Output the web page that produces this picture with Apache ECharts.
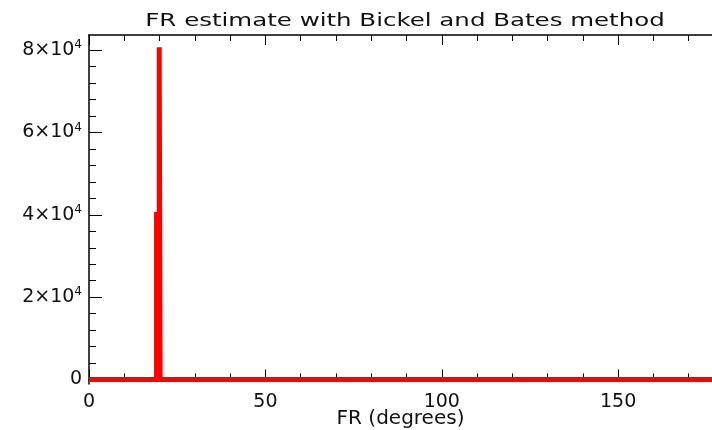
<!DOCTYPE html>
<html>
<head>
<meta charset="utf-8">
<script src="https://cdn.jsdelivr.net/npm/echarts@6/dist/echarts.min.js"></script>
<style>html,body{margin:0;padding:0;background:#fff}#c{width:712px;height:430px}</style>
</head>
<body>
<div id="c"></div>
<script>
// Data (FR histogram, drawn as a step line; x = bin edges in degrees)
var frDegrees = [0, 19.15, 19.9, 20.15, 180];
var counts = [0, 40100, 80700, 0, 0];
// Tick values
var xMajorTicks = [0, 50, 100, 150];
var xMinorTicks = [10, 20, 30, 40, 60, 70, 80, 90, 110, 120, 130, 140, 160, 170];
var yMajorTicks = [0, 20000, 40000, 60000, 80000];
var yMinorTicks = [4000, 8000, 12000, 16000, 24000, 28000, 32000, 36000, 44000, 48000, 52000, 56000, 64000, 68000, 72000, 76000];
var titleText = 'FR estimate with Bickel and Bates method';
var xName = 'FR (degrees)';

var FONT = 'DejaVu Sans';
var chart = echarts.init(document.getElementById('c'), null, {renderer: 'canvas'});

function yLabel(v) {
  if (v === 0) return '0';
  var m = Math.round(v / 10000);
  return m + '×10{s|4}';
}

var X_MAX = 176.6; // visible right edge of the (cropped) plot
var xBase = {
  type: 'value', min: 0, max: X_MAX, gridIndex: 0,
  splitLine: {show: false}
};
var tickLineStyle = {color: '#000', width: 1};

var option = {
  animation: false,
  backgroundColor: '#fff',
  grid: {left: 89, right: 0, top: 35, bottom: 46, containLabel: false, outerBoundsMode: 'none'},
  graphic: [{
    type: 'text', x: 405, y: 12, scaleX: 1.36, scaleY: 1,
    style: {text: titleText, fill: '#111', font: '18px "DejaVu Sans"', textAlign: 'center', textVerticalAlign: 'top'}
  }],
  xAxis: [
    Object.assign({}, xBase, {
      position: 'bottom',
      axisLine: {show: true, lineStyle: {color: '#000', width: 1.5}},
      axisTick: {show: true, inside: true, length: 10, lineStyle: tickLineStyle, customValues: xMajorTicks},
      axisLabel: {show: true, customValues: xMajorTicks, color: '#111', fontFamily: FONT, fontSize: 19, margin: 9},
      name: xName, nameLocation: 'middle', nameGap: 25, nameMoveOverlap: false,
      nameTextStyle: {color: '#111', fontFamily: FONT, fontSize: 20}
    }),
    Object.assign({}, xBase, {
      position: 'bottom',
      axisLine: {show: false},
      axisTick: {show: true, inside: true, length: 6, lineStyle: tickLineStyle, customValues: xMinorTicks},
      axisLabel: {show: false}
    }),
    Object.assign({}, xBase, {
      position: 'top',
      axisLine: {show: true, lineStyle: {color: '#000', width: 1.5}},
      axisTick: {show: true, inside: true, length: 10, lineStyle: tickLineStyle, customValues: xMajorTicks},
      axisLabel: {show: false}
    }),
    Object.assign({}, xBase, {
      position: 'top',
      axisLine: {show: false},
      axisTick: {show: true, inside: true, length: 6, lineStyle: tickLineStyle, customValues: xMinorTicks},
      axisLabel: {show: false}
    })
  ],
  yAxis: [
    {
      type: 'value', min: -1100, max: 83700, position: 'left',
      splitLine: {show: false},
      axisLine: {show: true, lineStyle: {color: '#000', width: 1.5}},
      axisTick: {show: true, inside: true, length: 13, lineStyle: tickLineStyle, customValues: yMajorTicks},
      axisLabel: {
        show: true, customValues: yMajorTicks, color: '#111', fontFamily: FONT, fontSize: 19, margin: 7,
        formatter: yLabel,
        rich: {s: {fontSize: 12, fontFamily: FONT, color: '#111', verticalAlign: 'top', padding: [0, 0, 10, 0]}}
      }
    },
    {
      type: 'value', min: -1100, max: 83700, position: 'left',
      splitLine: {show: false},
      axisLine: {show: false},
      axisTick: {show: true, inside: true, length: 7, lineStyle: tickLineStyle, customValues: yMinorTicks},
      axisLabel: {show: false}
    }
  ],
  series: [{
    type: 'line',
    xAxisIndex: 0, yAxisIndex: 0,
    step: 'end',
    data: frDegrees.map(function (x, i) { return [x, counts[i]]; }),
    showSymbol: false, symbol: 'none',
    lineStyle: {color: '#f00', width: 5, join: 'miter', cap: 'butt'},
    clip: true
  }]
};
chart.setOption(option);
</script>
</body>
</html>
